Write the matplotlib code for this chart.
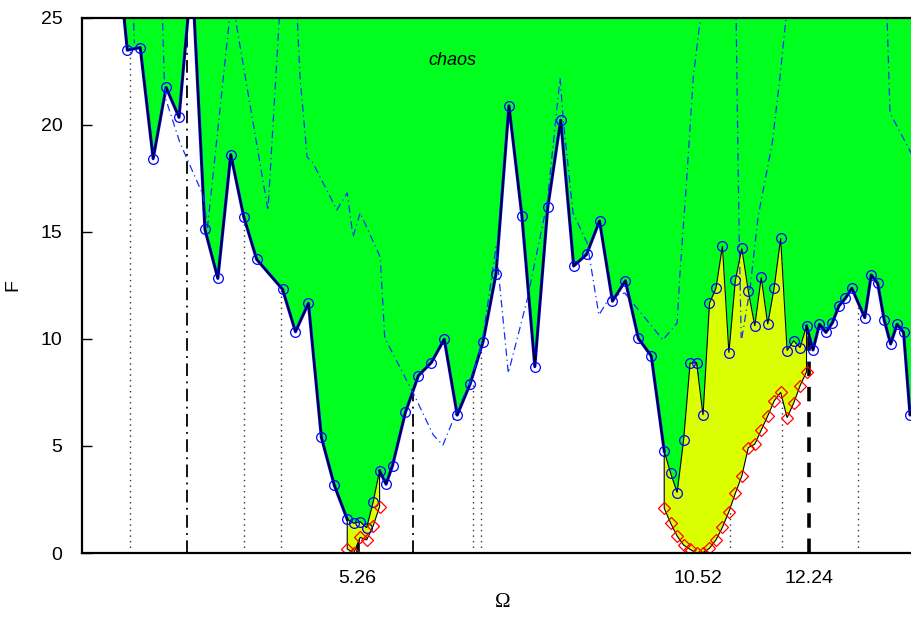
import numpy as np
import matplotlib
matplotlib.use("Agg")
import matplotlib.pyplot as plt

# boundary of the chaotic region (blue circles)
omega = np.array([1.5, 1.7, 1.9, 2.1, 2.3, 2.5, 2.7, 2.9, 3.1, 3.3, 3.5, 3.7,
                  4.1, 4.3, 4.5, 4.7, 4.9,
                  5.1, 5.2, 5.3, 5.4, 5.5, 5.6, 5.7, 5.8,
                  6.0, 6.2, 6.4, 6.6, 6.8, 7.0, 7.2, 7.4, 7.6, 7.8,
                  8.0, 8.2, 8.4, 8.6, 8.8, 9.0, 9.2, 9.4, 9.6, 9.8,
                  10.0, 10.1, 10.2, 10.3, 10.4, 10.5, 10.6, 10.7, 10.8, 10.9,
                  11.0, 11.1, 11.2, 11.3, 11.4, 11.5, 11.6, 11.7, 11.8, 11.9,
                  12.0, 12.1, 12.2, 12.3, 12.4, 12.5, 12.6, 12.7, 12.8, 12.9,
                  13.1, 13.2, 13.3, 13.4, 13.5, 13.6, 13.7, 13.8, 13.9])
f_upper = np.array([29.6, 23.48, 23.6, 18.41, 21.74, 20.34, 27.1, 15.11, 12.82, 18.6, 15.7, 13.71,
                    12.31, 10.33, 11.66, 5.40, 3.16,
                    1.57, 1.39, 1.46, 1.18, 2.37, 3.84, 3.21, 4.08,
                    6.57, 8.28, 8.89, 9.98, 6.44, 7.89, 9.87, 13.03, 20.88, 15.73,
                    8.70, 16.14, 20.21, 13.40, 13.94, 15.50, 11.76, 12.71, 10.02, 9.20,
                    4.76, 3.72, 2.82, 5.28, 8.86, 8.89, 6.44, 11.66, 12.36, 14.33,
                    9.35, 12.74, 14.22, 12.23, 10.60, 12.87, 10.68, 12.39, 14.69, 9.45,
                    9.91, 9.59, 10.60, 9.48, 10.68, 10.30, 10.75, 11.53, 11.89, 12.36,
                    10.99, 12.98, 12.59, 10.88, 9.76, 10.68, 10.30, 6.44, 7.3])

# lower boundaries of the coexistence regions (red diamonds)
omega_y1 = np.array([5.1, 5.2, 5.3, 5.4, 5.5, 5.6])
f_lower1 = np.array([0.19, 0.0, 0.73, 0.61, 1.26, 2.16])
omega_y2 = np.array([10.0, 10.1, 10.2, 10.3, 10.4, 10.5, 10.6, 10.7, 10.8, 10.9,
                     11.0, 11.1, 11.2, 11.3, 11.4, 11.5, 11.6, 11.7, 11.8, 11.9,
                     12.0, 12.1, 12.2])
f_lower2 = np.array([2.09, 1.39, 0.79, 0.37, 0.17, 0.0, 0.02, 0.22, 0.61, 1.20,
                     1.93, 2.79, 3.60, 4.92, 5.08, 5.74, 6.40, 7.10, 7.50, 6.32,
                     6.99, 7.81, 8.46])

# other bifurcation curves (blue dash-dot)
dd_curves = [
    ([1.79, 1.81], [25.5, 23.8]),
    ([2.24, 2.27, 2.30, 2.51, 2.87, 2.94, 3.30, 3.34, 3.875, 4.06],
     [25.5, 22.3, 21.15, 19.19, 16.72, 15.2, 25.5, 25.5, 16.0, 25.5]),
    ([4.32, 4.37, 4.48, 4.57, 4.94, 5.10, 5.19, 5.30, 5.61, 5.68, 6.12, 6.43, 6.58,
      6.80, 7.00, 7.18, 7.40, 7.59, 7.88, 8.19, 8.39, 8.44, 8.59, 8.81, 8.99, 9.16,
      9.39, 9.98, 10.20, 10.24, 10.35, 10.45, 10.58],
     [25.5, 22.23, 18.49, 18.21, 16.02, 16.81, 14.76, 15.88, 13.82, 10.04, 7.47, 5.51, 5.04,
      6.68, 7.94, 9.71, 14.29, 8.40, 11.81, 16.34, 22.18, 20.22, 15.88, 14.47, 11.11, 11.95,
      12.14, 9.95, 10.74, 12.89, 17.56, 22.23, 25.5]),
    ([11.11, 11.13, 11.16, 11.19], [25.5, 20.7, 14.6, 10.04]),
    ([11.20, 11.33, 11.45, 11.67, 11.79, 11.90], [10.04, 12.42, 15.69, 19.14, 22.23, 25.5]),
    ([13.44, 13.49, 13.9], [25.5, 20.55, 18.2]),
]

dotted_omega = [1.74, 3.50, 4.08, 7.04, 7.17, 11.02, 11.82, 13.0]
dashdot_omega = [2.62, 6.12]
dashed_omega = [5.26, 10.52, 12.24]

x_ticks = [5.26, 10.52, 12.24]
x_ticklabels = ["5.26", "10.52", "12.24"]
y_ticks = [0, 5, 10, 15, 20, 25]

GREEN = "#00ff1e"
YELLOW = "#d9ff00"

plt.rcParams["font.family"] = ["Liberation Sans", "DejaVu Sans"]

fig = plt.figure(figsize=(9.12, 6.17), dpi=100)
# the axes run slightly past the right edge of the picture, as in the original
ax = fig.add_axes([82 / 912, 64 / 617, 835 / 912, 535.4 / 617])

# vertical marker lines (behind the fills)
for w in dotted_omega:
    ax.axvline(w, color="#333333", lw=1.0, ls=(0, (1, 3)), zorder=1)
for w in dashdot_omega:
    ax.axvline(w, color="black", lw=1.3, ls=(0, (7, 3, 1, 3)), zorder=1)
for w in dashed_omega:
    ax.axvline(w, color="black", lw=2.6, ls=(0, (4, 3)), zorder=1)

# chaos region
ax.fill_between(omega, f_upper, 25, color=GREEN, lw=0, zorder=2)

# thick boundary where chaos meets the white region
for lo, hi in [(1.5, 5.1), (5.6, 10.0), (12.2, 13.9)]:
    sel = (omega >= lo - 1e-9) & (omega <= hi + 1e-9)
    ax.plot(omega[sel], f_upper[sel], color="#0000ff", lw=2.2, zorder=3)
    ax.plot(omega[sel], f_upper[sel], color="black", lw=1.0, zorder=3)

# coexistence regions
for om, lower in [(omega_y1, f_lower1), (omega_y2, f_lower2)]:
    upper = np.interp(om, omega, f_upper)
    ax.fill(np.concatenate([om, om[::-1]]), np.concatenate([lower, upper[::-1]]),
            facecolor=YELLOW, edgecolor="black", lw=0.8, zorder=4)

for xs, ys in dd_curves:
    ax.plot(xs, ys, color="#1030ff", lw=0.9, ls=(0, (6, 3, 1, 3)), zorder=5)

ax.plot(omega, f_upper, ls="none", marker="o", ms=7, mfc="none", mec="#0000ff", mew=0.9, zorder=6)
for om, lower in [(omega_y1, f_lower1), (omega_y2, f_lower2)]:
    ax.plot(om, lower, ls="none", marker="D", ms=6.5, mfc="none", mec="#ff0000", mew=0.9, zorder=6)

ax.text(6.72, 23.0, "chaos", fontsize=13, style="italic", ha="center", va="center", zorder=7)

ax.set_xlim(1, 1 + 835 / 64.69)
ax.set_ylim(0, 25)
ax.set_xticks(x_ticks)
ax.set_xticklabels(x_ticklabels)
ax.set_yticks(y_ticks)
ax.tick_params(axis="x", length=0, pad=12, labelsize=14)
ax.tick_params(axis="y", direction="in", length=7, width=1, pad=14, labelsize=14)
for s in ax.spines.values():
    s.set_linewidth(1.6)
    s.set_zorder(8)

ax.set_xlabel("Ω", fontsize=15, family="Liberation Serif", labelpad=6)
ax.xaxis.set_label_coords((503 - 82) / 835, -0.075)
ax.set_ylabel("F", fontsize=14, labelpad=14)

fig.savefig("out.png", dpi=100)
